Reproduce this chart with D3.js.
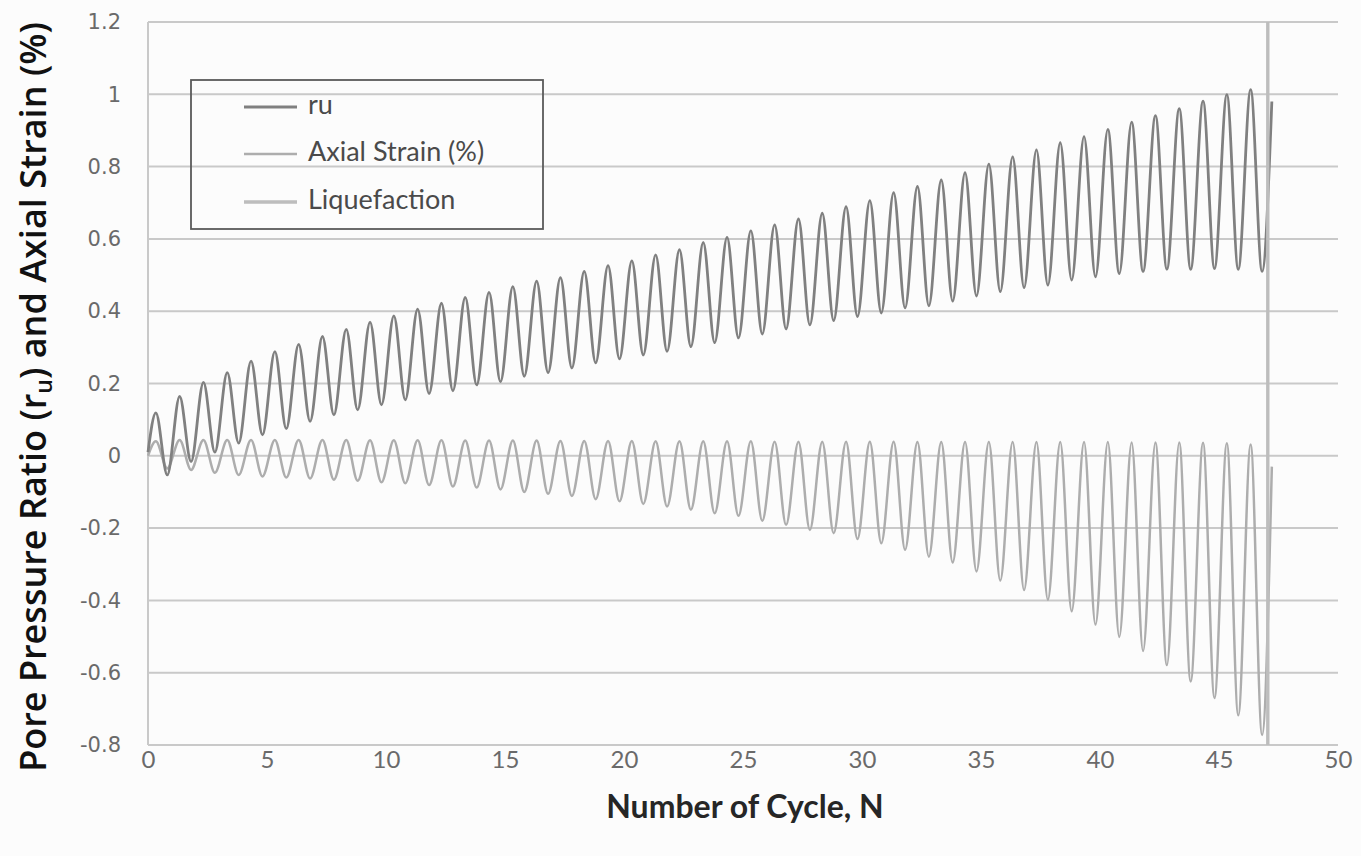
<!DOCTYPE html>
<html>
<head>
<meta charset="utf-8">
<script src="https://cdn.jsdelivr.net/npm/d3@7"></script>
<style>
  html, body { margin: 0; padding: 0; background: #fcfcfc; }
  svg { display: block; }
</style>
</head>
<body>
<svg id="chart" width="1361" height="856"></svg>
<script>
// ---------- data ----------
const xTicks = [0, 5, 10, 15, 20, 25, 30, 35, 40, 45, 50];
const yTicks = [-0.8, -0.6, -0.4, -0.2, 0, 0.2, 0.4, 0.6, 0.8, 1, 1.2];
const yTickLabels = ["-0.8", "-0.6", "-0.4", "-0.2", "0", "0.2", "0.4", "0.6", "0.8", "1", "1.2"];

// cycle phase at which peaks and troughs occur (fraction of a cycle)
const peakPhase = 0.33;
const troughPhase = 0.81;

// ru: peak value of each cycle (N = 0..46) and trough value of each cycle
const ruPeaks = [0.119, 0.164, 0.203, 0.23, 0.262, 0.288, 0.308, 0.33, 0.35, 0.37,
  0.387, 0.406, 0.422, 0.438, 0.452, 0.468, 0.483, 0.493, 0.51, 0.526,
  0.539, 0.556, 0.57, 0.59, 0.604, 0.622, 0.639, 0.655, 0.671, 0.689,
  0.706, 0.728, 0.745, 0.763, 0.783, 0.807, 0.827, 0.846, 0.866, 0.883,
  0.903, 0.923, 0.941, 0.96, 0.981, 0.999, 1.013];
const ruTroughs = [-0.053, -0.016, 0.01, 0.035, 0.058, 0.075, 0.095, 0.113, 0.127, 0.141,
  0.155, 0.172, 0.18, 0.196, 0.205, 0.22, 0.23, 0.243, 0.257, 0.268,
  0.279, 0.289, 0.302, 0.313, 0.326, 0.337, 0.351, 0.362, 0.374, 0.385,
  0.395, 0.409, 0.415, 0.428, 0.442, 0.454, 0.465, 0.472, 0.486, 0.495,
  0.504, 0.51, 0.516, 0.516, 0.518, 0.516, 0.51];
const ruStart = [0, 0.01];
const ruEnd = [47.22, 0.98];

// axial strain (%): peak and trough of each cycle
const strainPeaks = [0.04, 0.044, 0.044, 0.044, 0.044, 0.044, 0.044, 0.044, 0.044, 0.043,
  0.043, 0.043, 0.043, 0.042, 0.042, 0.042, 0.042, 0.041, 0.041, 0.041,
  0.041, 0.04, 0.04, 0.04, 0.04, 0.04, 0.039, 0.039, 0.039, 0.039,
  0.039, 0.039, 0.038, 0.038, 0.038, 0.038, 0.038, 0.038, 0.038, 0.038,
  0.038, 0.037, 0.037, 0.037, 0.036, 0.035, 0.031];
const strainTroughs = [-0.035, -0.039, -0.047, -0.053, -0.057, -0.06, -0.063, -0.066, -0.069, -0.073,
  -0.076, -0.081, -0.085, -0.088, -0.093, -0.1, -0.105, -0.111, -0.12, -0.126,
  -0.133, -0.14, -0.149, -0.159, -0.166, -0.18, -0.191, -0.205, -0.214, -0.23,
  -0.242, -0.26, -0.279, -0.295, -0.32, -0.345, -0.371, -0.398, -0.43, -0.467,
  -0.501, -0.54, -0.579, -0.624, -0.67, -0.718, -0.772];
const strainStart = [0, 0];
const strainEnd = [47.22, -0.03];

// liquefaction marker
const liqN = [47.05, 47.05];
const liqY = [-0.8, 1.2];

const legendLabels = ["ru", "Axial Strain (%)", "Liquefaction"];

// ---------- build point lists ----------
function buildSeries(start, peaks, troughs, end) {
  const pts = [{n: start[0], v: start[1]}];
  for (let i = 0; i < peaks.length; i++) {
    pts.push({n: i + peakPhase, v: peaks[i]});
    pts.push({n: i + troughPhase, v: troughs[i]});
  }
  pts.push({n: end[0], v: end[1]});
  return pts;
}
const ruData = buildSeries(ruStart, ruPeaks, ruTroughs, ruEnd);
const strainData = buildSeries(strainStart, strainPeaks, strainTroughs, strainEnd);
const liqData = liqN.map((n, i) => ({n, v: liqY[i]}));

// ---------- layout ----------
const svg = d3.select("#chart");
const plotL = 148, plotR = 1338, plotT = 22, plotB = 745;
const x = d3.scaleLinear().domain([0, 50]).range([plotL, plotR]);
const y = d3.scaleLinear().domain([-0.8, 1.2]).range([plotB, plotT]);

const gridColor = "#c9c9c9";

// horizontal gridlines
svg.append("g")
  .selectAll("line")
  .data(yTicks)
  .join("line")
  .attr("x1", plotL).attr("x2", plotR)
  .attr("y1", d => y(d)).attr("y2", d => y(d))
  .attr("stroke", gridColor).attr("stroke-width", 2);

// left axis line
svg.append("line")
  .attr("x1", plotL).attr("x2", plotL)
  .attr("y1", plotT).attr("y2", plotB)
  .attr("stroke", gridColor).attr("stroke-width", 2);

// y axis tick labels
const yAxis = d3.axisLeft(y).tickValues(yTicks)
  .tickFormat((d, i) => yTickLabels[i]).tickSize(0).tickPadding(27);
const gy = svg.append("g").attr("transform", `translate(${plotL},0)`).call(yAxis);
gy.select(".domain").remove();
gy.selectAll("text")
  .attr("fill", "#6a6a6a")
  .style("font-family", "'DejaVu Sans', Verdana, sans-serif")
  .style("font-size", "21px");

// x axis tick labels
const xAxis = d3.axisBottom(x).tickValues(xTicks).tickSize(0).tickPadding(6);
const gx = svg.append("g").attr("transform", `translate(0,${plotB})`).call(xAxis);
gx.select(".domain").remove();
gx.selectAll("text")
  .attr("fill", "#6a6a6a")
  .style("font-family", "Lato, 'Open Sans', sans-serif")
  .style("font-size", "24px");

// series
const line = d3.line().x(d => x(d.n)).y(d => y(d.v)).curve(d3.curveMonotoneX);

svg.append("path").datum(strainData)
  .attr("d", line).attr("fill", "none")
  .attr("stroke", "#adadad").attr("stroke-width", 2.5);

svg.append("path").datum(ruData)
  .attr("d", line).attr("fill", "none")
  .attr("stroke", "#808080").attr("stroke-width", 2.8);

// liquefaction line
svg.append("path").datum(liqData)
  .attr("d", d3.line().x(d => x(d.n)).y(d => y(d.v)))
  .attr("fill", "none")
  .attr("stroke", "#bdbdbd").attr("stroke-width", 3.4);

// legend
const lg = svg.append("g");
lg.append("rect")
  .attr("x", 191).attr("y", 80).attr("width", 352).attr("height", 149)
  .attr("fill", "none").attr("stroke", "#5a5a5a").attr("stroke-width", 1.8);
const legendColors = ["#808080", "#adadad", "#bdbdbd"];
const legendWidths = [2.8, 2.5, 3.4];
const legendRows = [107, 154, 202];
legendLabels.forEach((lab, i) => {
  lg.append("line")
    .attr("x1", 244).attr("x2", 297)
    .attr("y1", legendRows[i]).attr("y2", legendRows[i])
    .attr("stroke", legendColors[i]).attr("stroke-width", legendWidths[i]);
  lg.append("text")
    .attr("x", 308).attr("y", legendRows[i])
    .attr("dominant-baseline", "middle")
    .attr("fill", "#4a4a4a")
    .style("font-family", "Lato, 'Open Sans', sans-serif")
    .style("font-size", "27px")
    .text(lab);
});

// axis titles
svg.append("text")
  .attr("x", 745).attr("y", 818)
  .attr("text-anchor", "middle")
  .attr("fill", "#262626")
  .style("font-family", "Lato, 'Open Sans', sans-serif")
  .style("font-weight", "bold")
  .style("font-size", "32px")
  .text("Number of Cycle, N");

const yt = svg.append("text")
  .attr("transform", "translate(46,397) rotate(-90)")
  .attr("text-anchor", "middle")
  .attr("fill", "#111")
  .style("font-family", "'Open Sans', Lato, sans-serif")
  .style("font-weight", "600")
  .style("font-size", "36px");
yt.append("tspan").text("Pore Pressure Ratio (r");
yt.append("tspan").attr("dy", 6).style("font-size", "23px").text("u");
yt.append("tspan").attr("dy", -6).text(") and Axial Strain (%)");
</script>
</body>
</html>
